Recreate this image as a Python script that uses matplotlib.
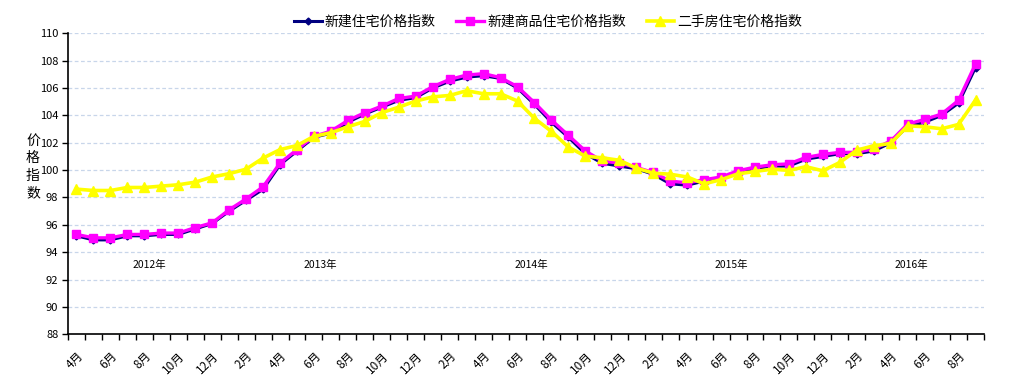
import matplotlib
matplotlib.use("Agg")
import matplotlib.pyplot as plt
import numpy as np
from matplotlib.ticker import FixedLocator

plt.rcParams['font.family'] = ['Noto Sans CJK SC', 'DejaVu Sans']

# months from 2012-04 to 2016-09
months = [4, 5, 6, 7, 8, 9, 10, 11, 12,
          1, 2, 3, 4, 5, 6, 7, 8, 9, 10, 11, 12,
          1, 2, 3, 4, 5, 6, 7, 8, 9, 10, 11, 12,
          1, 2, 3, 4, 5, 6, 7, 8, 9, 10, 11, 12,
          1, 2, 3, 4, 5, 6, 7, 8, 9]
month_labels = [f"{m}月" for m in months]

new_housing = [95.2, 94.9, 94.9, 95.2, 95.2, 95.3, 95.3, 95.7, 96.1, 97.0, 97.8, 98.6,
               100.4, 101.4, 102.4, 102.7, 103.5, 104.1, 104.6, 105.1, 105.3, 106.0,
               106.5, 106.8, 106.9, 106.7, 106.0, 104.8, 103.5, 102.4, 101.2, 100.5,
               100.3, 100.1, 99.7, 99.0, 98.9, 99.2, 99.4, 99.8, 100.1, 100.3, 100.3,
               100.8, 101.0, 101.2, 101.2, 101.4, 102.0, 103.2, 103.5, 104.0, 104.9, 107.5]

new_commercial = [95.3, 95.05, 95.05, 95.3, 95.3, 95.4, 95.4, 95.8, 96.15, 97.1, 97.9, 98.78,
                  100.52, 101.5, 102.47, 102.85, 103.63, 104.2, 104.68, 105.24, 105.41, 106.1,
                  106.63, 106.95, 107.05, 106.76, 106.1, 104.93, 103.66, 102.54, 101.4, 100.66,
                  100.52, 100.2, 99.83, 99.2, 99.07, 99.3, 99.5, 99.95, 100.22, 100.39, 100.46,
                  100.93, 101.15, 101.3, 101.3, 101.56, 102.12, 103.37, 103.7, 104.1, 105.1, 107.76]

second_hand = [98.61, 98.51, 98.51, 98.73, 98.73, 98.83, 98.93, 99.12, 99.5, 99.74, 100.07, 100.88,
               101.5, 101.8, 102.47, 102.73, 103.17, 103.56, 104.2, 104.6, 105.05, 105.35,
               105.46, 105.8, 105.58, 105.58, 105.05, 103.78, 102.83, 101.68, 101.02, 100.9,
               100.72, 100.15, 99.78, 99.7, 99.5, 99.0, 99.3, 99.73, 99.9, 100.07, 99.98,
               100.25, 99.95, 100.56, 101.46, 101.78, 101.95, 103.24, 103.17, 103.02, 103.34, 105.12]

series_names = ["新建住宅价格指数", "新建商品住宅价格指数", "二手房住宅价格指数"]
years = ["2012年", "2013年", "2014年", "2015年", "2016年"]
year_pos = [4.3, 14.4, 26.8, 38.6, 49.2]

fig = plt.figure(figsize=(10.09, 3.76), dpi=100)
ax = fig.add_axes([68/1009, 1-334.3/376, (984-68)/1009, (334.3-33.3)/376])

x = np.arange(len(months))
l1, = ax.plot(x, new_housing, color='#000080', lw=2.2, marker='D', ms=3.5,
              label=series_names[0], zorder=3)
l2, = ax.plot(x, new_commercial, color='#FF00FF', lw=2.4, marker='s', ms=6,
              label=series_names[1], zorder=4)
l3, = ax.plot(x, second_hand, color='#FFFF00', lw=2.6, marker='^', ms=6.5,
              label=series_names[2], zorder=5)

ax.set_xlim(-0.5, len(months) - 0.5)
ax.set_ylim(88, 110)
ax.set_yticks(np.arange(88, 111, 2))
ax.yaxis.grid(True, color='#c8d6ea', linestyle=(0, (3, 2)), linewidth=0.9)
ax.set_axisbelow(True)

for s in ['top', 'right']:
    ax.spines[s].set_visible(False)
ax.spines['left'].set_linewidth(1.2)
ax.spines['bottom'].set_linewidth(1.2)

ax.tick_params(axis='y', length=4, width=1, labelsize=8, pad=3)
ax.set_xticks(x[::2])
ax.set_xticklabels(month_labels[::2], rotation=45, ha='right',
                   rotation_mode='anchor', fontsize=8.5)
ax.tick_params(axis='x', which='major', length=0, pad=11)
ax.xaxis.set_minor_locator(FixedLocator(np.arange(-0.5, len(months), 1)))
ax.tick_params(axis='x', which='minor', length=4, width=1)

for yl, xp in zip(years, year_pos):
    ax.text(xp, 93.1, yl, ha='center', va='center', fontsize=7.5)

fig.text(33/1009, 1-167/376, "价\n格\n指\n数", ha='center', va='center',
         fontsize=10, linespacing=1.3)

fig.legend(handles=[l1, l2, l3], loc='center', bbox_to_anchor=(548/1009, 1-22/376),
           ncol=3, frameon=False, fontsize=10, handlelength=2.0, handletextpad=0.2,
           columnspacing=1.5, borderaxespad=0)

fig.savefig("out.png", dpi=100)
